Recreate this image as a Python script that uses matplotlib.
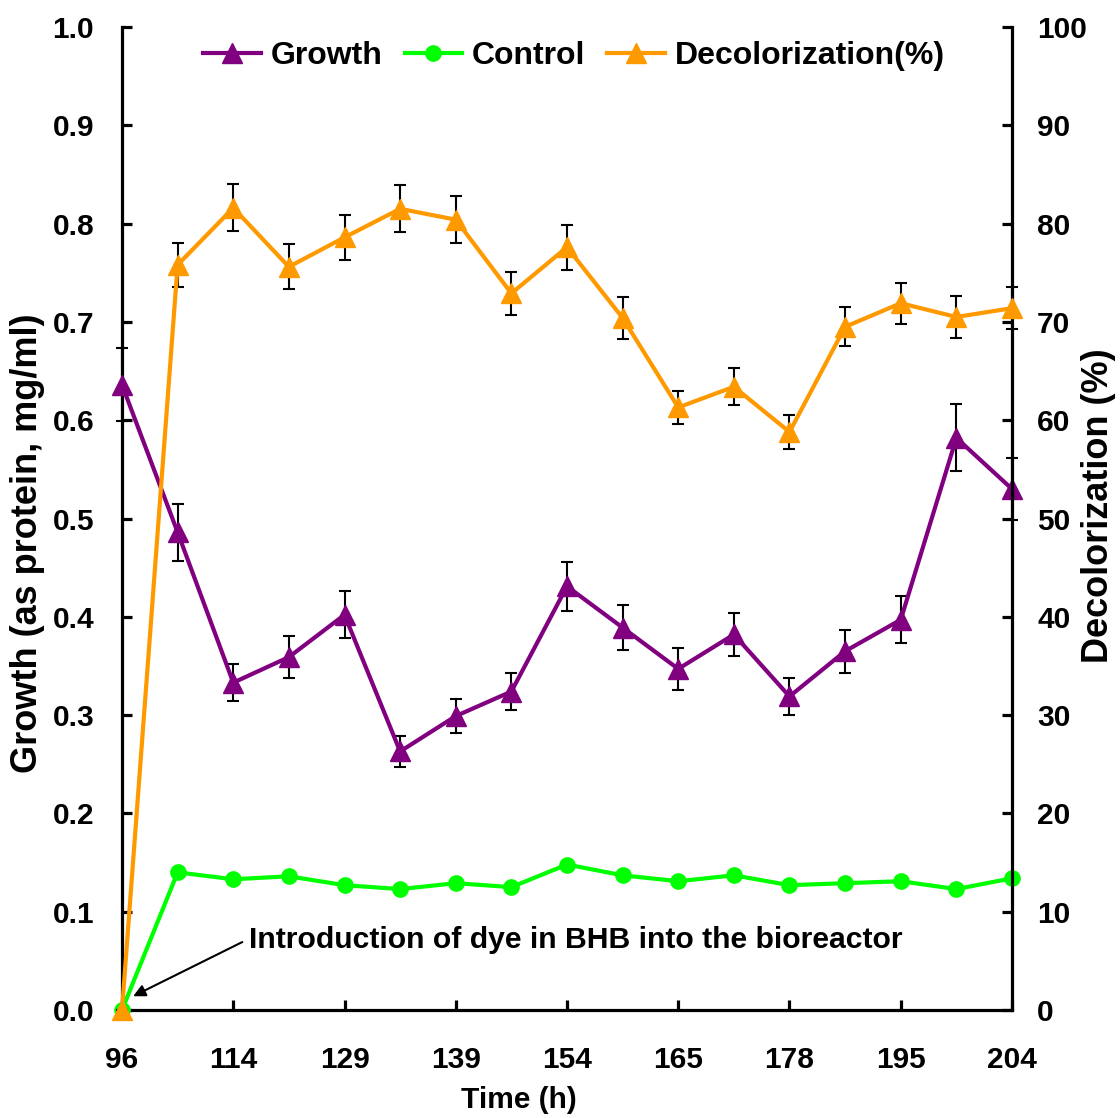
import numpy as np
import matplotlib
matplotlib.use("Agg")
import matplotlib.pyplot as plt
from matplotlib.lines import Line2D

plt.rcParams["font.family"] = ["Liberation Sans", "DejaVu Sans"]
plt.rcParams["font.weight"] = "bold"

# Sampling times (only every other one is labelled on the axis)
time_labels = ["96", "114", "129", "139", "154", "165", "178", "195", "204"]
n_samples = 17

# Growth (as protein, mg/ml) with standard deviations
growth = [0.636, 0.486, 0.333, 0.359, 0.402, 0.263, 0.299, 0.324, 0.431,
          0.389, 0.347, 0.382, 0.319, 0.365, 0.397, 0.582, 0.530]
growth_err = [0.037, 0.029, 0.019, 0.021, 0.024, 0.016, 0.017, 0.019, 0.025,
              0.023, 0.021, 0.022, 0.019, 0.022, 0.024, 0.034, 0.032]

# Control (as protein, mg/ml)
control = [0.0, 0.140, 0.133, 0.136, 0.127, 0.123, 0.129, 0.125, 0.148,
           0.137, 0.131, 0.137, 0.127, 0.129, 0.131, 0.123, 0.134]

# Decolorization (%) with standard deviations
decol = [0.0, 75.8, 81.6, 75.6, 78.6, 81.5, 80.4, 72.9, 77.6,
         70.4, 61.3, 63.4, 58.8, 69.5, 71.9, 70.5, 71.4]
decol_err = [0.0, 2.2, 2.4, 2.3, 2.3, 2.4, 2.4, 2.2, 2.3,
             2.1, 1.7, 1.9, 1.7, 2.0, 2.1, 2.1, 2.1]

PURPLE = "#800080"
GREEN = "#00FF00"
ORANGE = "#FF9900"

x = np.arange(n_samples)

fig = plt.figure(figsize=(11.2, 11.18), dpi=100)
ax = fig.add_axes([122 / 1120, 1 - 1010 / 1118, (1012 - 122) / 1120, (1010 - 27) / 1118])
ax2 = ax.twinx()

err_kw = dict(fmt="none", ecolor="black", elinewidth=1.5, capsize=4.5, capthick=1.5)


def unclip(container):
    for child in container.get_children():
        child.set_clip_on(False)


# Left axis: growth and control
eb = ax.errorbar(x, growth, yerr=growth_err, zorder=3, **err_kw)
unclip(eb)
ax.plot(x, growth, color=PURPLE, lw=3, marker="^", ms=15, zorder=4, clip_on=False)
ax.plot(x, control, color=GREEN, lw=3, marker="o", ms=11, zorder=4, clip_on=False)

# Right axis: decolorization
eb2 = ax2.errorbar(x, decol, yerr=decol_err, zorder=3, **err_kw)
unclip(eb2)
ax2.plot(x, decol, color=ORANGE, lw=3, marker="^", ms=15, zorder=4, clip_on=False)

ax.set_xlim(0, n_samples - 1)
ax.set_ylim(0, 1.0)
ax2.set_ylim(0, 100)

ax.set_xticks(x[::2])
ax.set_xticklabels(time_labels)
ax.set_yticks(np.round(np.arange(0, 1.01, 0.1), 1))
ax.set_yticklabels([f"{v:.1f}" for v in np.arange(0, 1.01, 0.1)])
ax2.set_yticks(np.arange(0, 101, 10))

for a in (ax, ax2):
    a.spines["top"].set_visible(False)
    for s in ("left", "right", "bottom"):
        a.spines[s].set_linewidth(2.3)

ax.spines["right"].set_visible(False)
ax2.spines["left"].set_visible(False)
ax2.spines["bottom"].set_visible(False)

ax.tick_params(axis="x", direction="in", length=7, width=2.3, labelsize=21.5, pad=26)
ax.tick_params(axis="y", direction="in", length=7, width=2.3, labelsize=21.5, pad=20)
ax2.tick_params(axis="y", direction="in", length=7, width=2.3, labelsize=21.5, pad=18)

# Axis titles
fig.text(519 / 1120, 1 - 1100 / 1118, "Time (h)", ha="center", va="center",
         fontsize=21.5, fontweight="bold")
fig.text(28 / 1120, 1 - 543 / 1118, "Growth (as protein, mg/ml)", ha="center",
         va="center", rotation=90, fontsize=26, fontweight="bold")
fig.text(1099 / 1120, 1 - 506 / 1118, "Decolorization (%)", ha="center",
         va="center", rotation=90, fontsize=26, fontweight="bold")

# Dye introduction marker
ax.annotate("Introduction of dye in BHB into the bioreactor",
            xy=(0.2, 0.014), xytext=(2.28, 0.071),
            ha="left", va="center", fontsize=21.7, fontweight="bold",
            arrowprops=dict(arrowstyle="-|>", color="black", lw=1.5,
                            mutation_scale=18, relpos=(0, 0.55),
                            shrinkA=3, shrinkB=0))

# Legend
handles = [
    Line2D([], [], color=PURPLE, lw=3, marker="^", ms=15),
    Line2D([], [], color=GREEN, lw=3, marker="o", ms=11),
    Line2D([], [], color=ORANGE, lw=3, marker="^", ms=15),
]
labels = ["Growth", "Control", "Decolorization(%)"]
fig.legend(handles, labels, loc="center", bbox_to_anchor=(574 / 1120, 1 - 56 / 1118),
           ncol=3, frameon=False, fontsize=23, handlelength=1.8,
           handletextpad=0.3, columnspacing=0.7, borderpad=0)

fig.savefig("out.png", dpi=100)
